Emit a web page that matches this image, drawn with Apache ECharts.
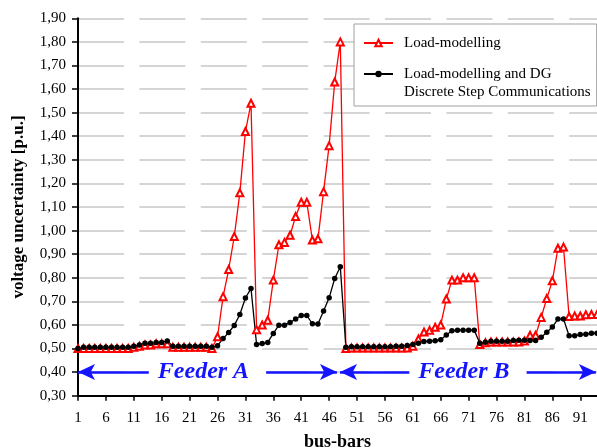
<!DOCTYPE html>
<html>
<head>
<meta charset="utf-8">
<script src="https://cdn.jsdelivr.net/npm/echarts@6/dist/echarts.min.js"></script>
<style>html,body{margin:0;padding:0;background:#fff}#c{width:597px;height:448px}</style>
</head>
<body>
<div id="c"></div>
<script>
const busBars = [1,2,3,4,5,6,7,8,9,10,11,12,13,14,15,16,17,18,19,20,21,22,23,24,25,26,27,28,29,30,31,32,33,34,35,36,37,38,39,40,41,42,43,44,45,46,47,48,49,50,51,52,53,54,55,56,57,58,59,60,61,62,63,64,65,66,67,68,69,70,71,72,73,74,75,76,77,78,79,80,81,82,83,84,85,86,87,88,89,90,91,92,93,94];

const loadModelling = [
  0.50,0.50,0.50,0.50,0.50,0.50,0.50,0.50,0.50,0.50,
  0.505,0.51,0.515,0.515,0.52,0.52,0.52,0.505,0.505,0.505,
  0.505,0.505,0.505,0.505,0.50,0.55,0.72,0.835,0.975,1.16,
  1.42,1.54,0.58,0.60,0.62,0.79,0.94,0.95,0.98,1.06,
  1.12,1.12,0.96,0.965,1.165,1.36,1.63,1.80,0.50,0.502,
  0.502,0.502,0.502,0.502,0.502,0.502,0.502,0.502,0.502,0.502,
  0.51,0.54,0.57,0.577,0.59,0.60,0.71,0.79,0.79,0.80,
  0.80,0.80,0.517,0.525,0.528,0.528,0.528,0.528,0.528,0.528,
  0.532,0.556,0.556,0.632,0.712,0.787,0.925,0.93,0.636,0.638,
  0.638,0.643,0.644,0.644
];

const loadModellingDG = [
  0.50,0.505,0.505,0.505,0.505,0.505,0.505,0.505,0.505,0.505,
  0.51,0.515,0.522,0.522,0.526,0.526,0.532,0.51,0.51,0.51,
  0.51,0.51,0.51,0.51,0.505,0.512,0.542,0.568,0.598,0.644,
  0.714,0.755,0.517,0.521,0.526,0.564,0.599,0.599,0.61,0.625,
  0.64,0.64,0.605,0.604,0.659,0.715,0.797,0.847,0.505,0.508,
  0.508,0.508,0.508,0.508,0.508,0.508,0.508,0.51,0.51,0.513,
  0.517,0.522,0.53,0.531,0.533,0.537,0.557,0.575,0.578,0.578,
  0.578,0.578,0.522,0.527,0.531,0.531,0.531,0.531,0.534,0.535,
  0.535,0.534,0.534,0.548,0.569,0.591,0.625,0.625,0.554,0.554,
  0.559,0.56,0.565,0.565
];

const xTickLabels = [1,6,11,16,21,26,31,36,41,46,51,56,61,66,71,76,81,86,91];
const seriesNames = ['Load-modelling', 'Load-modelling and DG Discrete Step Communications'];
const legendTexts = ['Load-modelling', '\nLoad-modelling and DG\nDiscrete Step Communications'];
const feederNames = ['Feeder A', 'Feeder B'];
const feederSpans = [[1, 47.4], [47.95, 93.8]];
const feederLevel = 0.40;

const serif = 'Liberation Serif';
const blue = '#1414ff';

const chart = echarts.init(document.getElementById('c'), null, {renderer: 'canvas'});
chart.setOption({
  animation: false,
  backgroundColor: '#fff',
  grid: {left: 78, right: 0, top: 18.3, bottom: 52.3, containLabel: false, outerBoundsMode: 'none'},
  legend: {
    orient: 'vertical',
    left: 354, top: 24,
    padding: [10, 6, 5, 9],
    itemGap: -5,
    itemWidth: 29, itemHeight: 8,
    borderColor: '#a0a0a0', borderWidth: 1, backgroundColor: '#fff',
    selectedMode: false,
    textStyle: {fontFamily: serif, fontSize: 15, color: '#000', lineHeight: 18, padding: [0, 0, 0, 6]},
    data: seriesNames,
    formatter: function (name) { return legendTexts[seriesNames.indexOf(name)]; }
  },
  xAxis: {
    type: 'value', min: 1, max: 94,
    name: 'bus-bars', nameLocation: 'middle', nameGap: 38,
    nameTextStyle: {fontFamily: serif, fontSize: 18, fontWeight: 'bold', color: '#000'},
    axisLine: {show: true, onZero: false, lineStyle: {color: '#000', width: 2}},
    axisTick: {show: true, customValues: xTickLabels, length: 5, lineStyle: {color: '#000', width: 1.5}},
    axisLabel: {customValues: xTickLabels, fontFamily: serif, fontSize: 15, color: '#000', margin: 15},
    splitLine: {show: false}
  },
  yAxis: {
    type: 'value', min: 0.3, max: 1.9, interval: 0.1,
    name: 'voltage uncertainty [p.u.]', nameLocation: 'middle', nameGap: 51,
    nameTextStyle: {fontFamily: serif, fontSize: 17, fontWeight: 'bold', color: '#000'},
    axisLine: {show: true, lineStyle: {color: '#000', width: 2}},
    axisTick: {show: true, length: 6, lineStyle: {color: '#000', width: 1.5}},
    axisLabel: {fontFamily: serif, fontSize: 15, color: '#000', margin: 12,
      formatter: function (v) { return v.toFixed(2).replace('.', ','); }},
    splitLine: {show: true, lineStyle: {color: '#c8c8c8', width: 1.5, type: [46, 15.4], dashOffset: 0}}
  },
  series: [
    {
      name: seriesNames[0], type: 'line',
      data: busBars.map(function (b, i) { return [b, loadModelling[i]]; }),
      symbol: 'emptyTriangle', symbolSize: 7, showSymbol: true, showAllSymbol: true,
      itemStyle: {color: '#ff0000', borderColor: '#ff0000', borderWidth: 1},
      lineStyle: {color: '#ff0000', width: 1.3},
      emphasis: {disabled: true}
    },
    {
      name: seriesNames[1], type: 'line',
      data: busBars.map(function (b, i) { return [b, loadModellingDG[i]]; }),
      symbol: 'circle', symbolSize: 5.5, showSymbol: true, showAllSymbol: true,
      itemStyle: {color: '#000'},
      lineStyle: {color: '#000', width: 1.3},
      emphasis: {disabled: true}
    },
    {
      type: 'line', data: [], silent: true,
      markLine: {
        silent: true, animation: false,
        symbol: ['arrow', 'arrow'], symbolSize: [12, 17],
        lineStyle: {color: blue, width: 2.5, type: 'solid'},
        label: {show: true, position: 'insideMiddle', formatter: '{b}',
          fontFamily: serif, fontStyle: 'italic', fontWeight: 'bold', fontSize: 24, color: blue,
          backgroundColor: '#fff', padding: [0, 17, 0, 9]},
        emphasis: {disabled: true},
        data: feederNames.map(function (n, i) {
          return [{name: n, coord: [feederSpans[i][0], feederLevel]}, {coord: [feederSpans[i][1], feederLevel]}];
        })
      }
    }
  ]
});
</script>
</body>
</html>
